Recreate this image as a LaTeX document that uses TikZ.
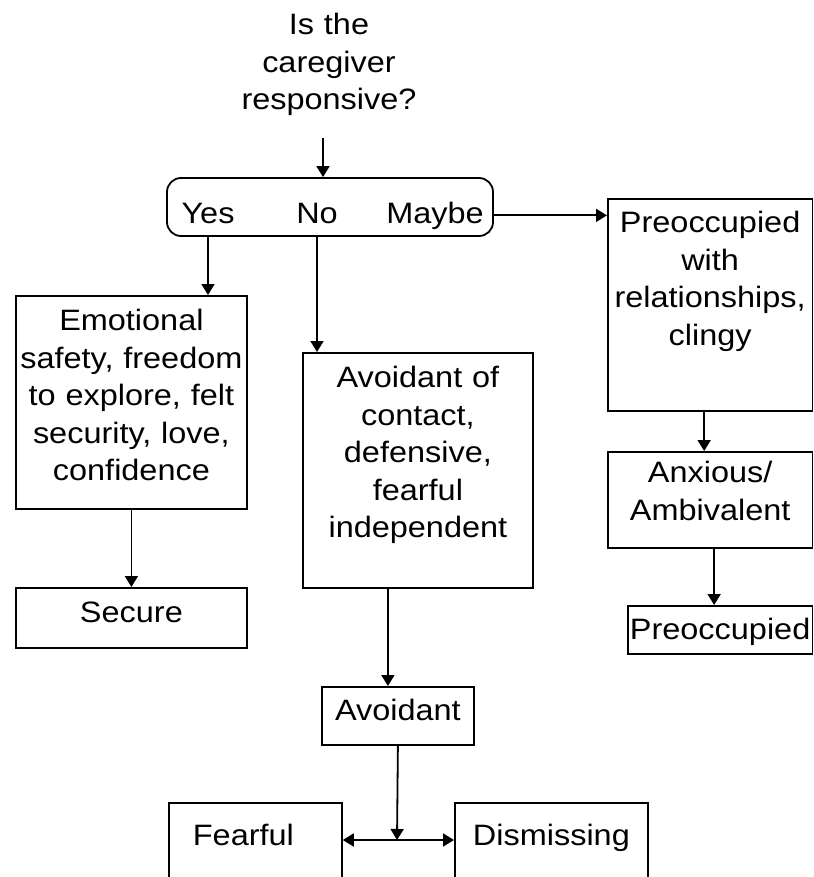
\documentclass[tikz,border=0pt]{standalone}
\usepackage{fontspec}
\setmainfont{Liberation Sans}[FakeStretch=1.1]
\usepackage{tikz}
\usetikzlibrary{arrows.meta}

\begin{document}
\begin{tikzpicture}[x = 1pt, y = -1pt,
            font = \fontsize{29.5}{37.5}\selectfont,
            box/.style n args = {3}{draw, line width = 1.8pt, inner sep = 0pt, anchor = north west, align = center, text width = #1, text height = #2, text depth = #3},
            arr/.style = {line width = 1.8pt, -{Triangle[length=11pt,width=13pt]}},
            twoarr/.style = {line width = 1.8pt, {Triangle[length=11pt,width=13pt]}-{Triangle[length=11pt,width=13pt]}}]
            \useasboundingbox (0,0) rectangle (813,877);
            \clip (0,0) rectangle (813,877);

            \node (question) at (329,35) [anchor = base, inner sep = 0pt, text width = 240pt, align = center] {Is the\\caregiver\\responsive?};

            \node (resp) at (330,207) [draw, line width = 1.8pt, rounded corners = 14pt, minimum width = 326pt, minimum height = 58pt] {};
            \node (yes) at (208,223) [anchor = base] {Yes};
            \node (no) at (317,223) [anchor = base] {No};
            \node (maybe) at (435,223) [anchor = base] {Maybe};

            \node (emo) at (15,295) [box = {231pt}{35pt}{178pt}] {Emotional\\safety, freedom\\to explore, felt\\security, love,\\confidence};
            \node (sec) at (15,587) [box = {231pt}{35pt}{25pt}] {Secure};

            \node (avo) at (302,352) [box = {230pt}{35pt}{200pt}] {Avoidant of\\contact,\\defensive,\\fearful\\independent};
            \node (avd) at (321,686) [box = {152pt}{34pt}{24pt}] {Avoidant};

            \node (pwr) at (607,198) [box = {204.5pt}{34pt}{178pt}] {Preoccupied\\with\\relationships,\\clingy};
            \node (anx) at (607,451) [box = {204.5pt}{31pt}{65pt}] {Anxious/\\Ambivalent};
            \node (pre) at (627,605) [box = {184.5pt}{34pt}{14pt}] {Preoccupied};

            \node (fear) at (168,802) [box = {125pt}{43pt}{55pt}, inner xsep = 24pt, align = left] {Fearful};
            \node (dis) at (454,802) [box = {193pt}{43pt}{55pt}] {Dismissing};
            \coordinate (meet) at (397,840);

            \draw [arr] ([xshift=-6pt,yshift=-22pt]question.south) -- ([xshift=-6pt]question.south |- resp.north);
            \draw [arr] (yes |- resp.south) -- (yes |- emo.north);
            \draw [arr] (no |- resp.south) -- (no |- avo.north);
            \draw [arr] (resp.east |- maybe) -- (pwr.west |- maybe);

            \draw [arr] (emo.south) -- (sec.north);
            \draw [arr] ([xshift=-10pt]avd.north |- avo.south) -- ([xshift=-10pt]avd.north);
            \draw [arr] (avd.south) -- (meet);
            \draw [twoarr] (fear.east |- meet) -- (dis.west |- meet);

            \draw [arr] ([xshift=-6pt]pwr.south) -- ([xshift=-6pt]anx.north);
            \draw [arr] ([xshift=4pt]anx.south) -- ([xshift=4pt]anx.south |- pre.north);
\end{tikzpicture}
\end{document}
